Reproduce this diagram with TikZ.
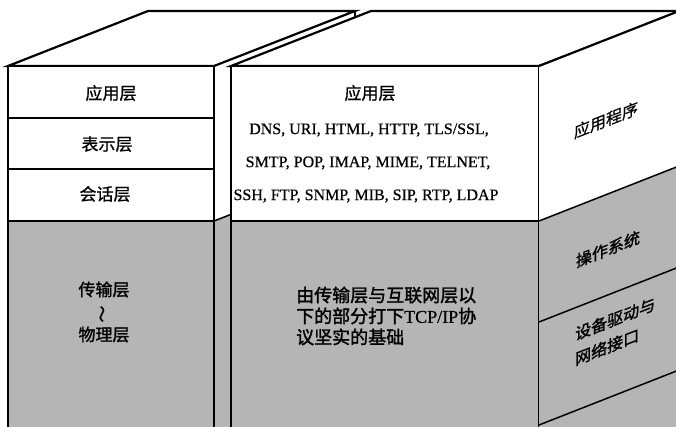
\documentclass[tikz,border=0pt]{standalone}
\usepackage{fontspec}
\setmainfont{Liberation Serif}
\newfontfamily\latb[FakeBold=0.6]{Liberation Serif}
\newfontfamily\cjk[FakeBold=0.8]{Noto Sans CJK SC}
\newfontfamily\cjkb[FakeBold=1.6]{Noto Sans CJK SC}
\definecolor{grainc}{gray}{0.71}
\begin{document}
\begin{tikzpicture}[x=1pt,y=-1pt,line join=miter,
  edge/.style={line width=2.2pt},
  thinedge/.style={line width=1.5pt},
  cjklabel/.style={font=\cjk\fontsize{17}{20}\selectfont,inner sep=0pt},
  latlabel/.style={font=\latb\fontsize{16}{18}\selectfont,inner sep=0pt},
  sidelabel/.style={font=\cjkb\fontsize{16}{24}\selectfont,inner sep=0pt,yslant=0.39,align=left}]
\useasboundingbox (0,0) rectangle (676,426);
\clip (0,0) rectangle (676,426);
% ---- left box: side face
\fill[white] (214,66) -- (355,11) -- (355,166) -- (214,221) -- cycle;
\fill[grainc] (214,221) -- (355,166) -- (355,440) -- (214,440) -- cycle;
\draw[thinedge] (214,221) -- (355,166);
% ---- left box: top face
\draw[edge,fill=white] (8,66) -- (148,11) -- (355,11) -- (214,66) -- cycle;
\draw[edge] (355,11) -- (355,60);
% ---- left box: front face
\fill[white] (8,66) rectangle (214,221);
\fill[grainc] (8,221) rectangle (214,440);
\draw[edge] (8,440) -- (8,66) -- (214,66) -- (214,440);
\draw[thinedge] (8,118) -- (214,118);
\draw[thinedge] (8,169) -- (214,169);
\draw[thinedge] (8,221) -- (214,221);
% ---- middle box: top face
\draw[edge,fill=white] (231,66) -- (371,11) -- (685,11) -- (539,66) -- cycle;
% ---- middle box: front face
\fill[white] (231,66) rectangle (539,221);
\fill[grainc] (231,221) rectangle (539,440);
\draw[edge] (231,440) -- (231,66) -- (539,66) -- (539,440);
\draw[thinedge] (231,221) -- (539,221);
% ---- middle box: right side face
\fill[white] (539,66) -- (679,11) -- (679,166) -- (539,221) -- cycle;
\fill[grainc] (539,221) -- (679,166) -- (679,440) -- (539,440) -- cycle;
\draw[edge] (539,66) -- (679,11);
\draw[thinedge] (539,221) -- (679,166);
\draw[thinedge] (539,322) -- (679,267);
\draw[thinedge] (539,425) -- (679,370);
% ---- texts, left box
\node[cjklabel] (lapp) at (111,93) {应用层};
\node[cjklabel] (lpre) at (107,144) {表示层};
\node[cjklabel] (lses) at (105,194) {会话层};
\node[cjklabel,align=center,font=\cjkb\fontsize{17}{22.5}\selectfont] (lrest) at (104,312)
  {传输层\\\smash{\rotatebox[origin=c]{90}{～}}\\物理层};
% ---- texts, middle box
\node[cjklabel] (mapp) at (370,93) {应用层};
\node[latlabel] (mp1) at (369,130) {DNS, URI, HTML, HTTP, TLS/SSL,};
\node[latlabel] (mp2) at (368,163) {SMTP, POP, IMAP, MIME, TELNET,};
\node[latlabel] (mp3) at (366,196) {SSH, FTP, SNMP, MIB, SIP, RTP, LDAP};
\node[cjklabel,anchor=west,align=left,font=\cjkb\fontsize{18}{21}\selectfont] (mbase) at (296,316)
  {由传输层与互联网层以\\下的部分打下{\latb TCP/IP}协\\议坚实的基础};
% ---- texts, side face
\node[sidelabel,font=\cjk\fontsize{16}{24}\selectfont] (sapp) at (606,120) {应用程序};
\node[sidelabel] (sos) at (608,249) {操作系统};
\node[sidelabel,anchor=west,font=\cjkb\fontsize{16}{25}\selectfont] (sdrv) at (575,347) {设备驱动与\\网络接口};
\end{tikzpicture}
\end{document}
